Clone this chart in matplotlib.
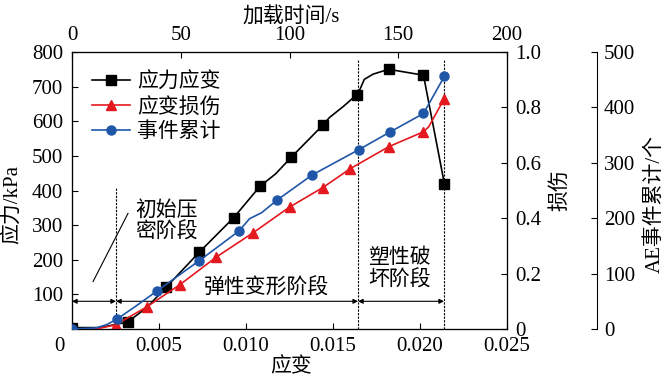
import matplotlib
matplotlib.use("Agg")
import matplotlib.pyplot as plt

plt.rcParams['font.family'] = ['Liberation Serif', 'Noto Sans CJK SC']
plt.rcParams['axes.linewidth'] = 0.8

# stress-strain curve (markers on a subset of points)
stress_strain = [0, 0.0016, 0.0032, 0.0043, 0.0054, 0.0073, 0.0093, 0.0108, 0.0117, 0.0126,
                 0.0144, 0.0148, 0.0156, 0.0161, 0.0164, 0.0168, 0.0173, 0.0182, 0.0202, 0.0214]
stress = [4, 4, 20, 62, 120, 221, 322, 412, 448, 496,
          588, 611, 643, 665, 675, 721, 736, 750, 733, 420]
stress_marks = [0, 2, 4, 5, 6, 7, 9, 10, 14, 17, 18, 19]

# strain damage
damage_strain = [0, 0.0014, 0.0025, 0.0043, 0.0062, 0.0083, 0.0104, 0.0125, 0.0144,
                 0.0160, 0.0182, 0.0202, 0.0205, 0.0214]
damage = [0, 0, 0.015, 0.08, 0.16, 0.26, 0.347, 0.44, 0.51,
          0.579, 0.658, 0.712, 0.73, 0.832]
damage_marks = [0, 2, 3, 4, 5, 6, 7, 8, 9, 10, 11, 13]

# cumulative AE events
ae_strain = [0, 0.0014, 0.0020, 0.0026, 0.0037, 0.0049, 0.0073, 0.0096, 0.0102, 0.0109,
             0.0118, 0.0138, 0.0165, 0.0183, 0.0202, 0.0214]
ae_count = [0, 2, 8, 18, 42, 69, 123, 177, 199, 210,
            233, 278, 324, 356, 389, 456]
ae_marks = [0, 3, 5, 6, 7, 10, 11, 12, 13, 14, 15]

# stage boundaries (strain) and dashed line heights (kPa)
bounds = [0, 0.00253, 0.01644, 0.02138]
dash_tops = [410, 778, 778]
arrow_level = 80

x_ticks = [0, 0.005, 0.010, 0.015, 0.020, 0.025]
x_labels = ['', '0.005', '0.010', '0.015', '0.020', '0.025']
y_ticks = [100, 200, 300, 400, 500, 600, 700, 800]
t_ticks = [0, 50, 100, 150, 200]
d_ticks = [0, 0.2, 0.4, 0.6, 0.8, 1.0]
d_labels = ['0', '0.2', '0.4', '0.6', '0.8', '1.0']
ae_ticks = [0, 100, 200, 300, 400, 500]

RED = '#e3191f'
BLUE = '#1f56a8'
FS = 15

fig = plt.figure(figsize=(6.68, 3.8), dpi=100)
ax = fig.add_axes([72 / 668, 1 - 329 / 380, 435 / 668, 277 / 380])
ax_t = ax.twiny()
ax_r = ax.twinx()
ax_ae = ax.twinx()

tick_kw = dict(direction='in', length=4.5, width=0.8, labelsize=FS)

# main axis
ax.set_xlim(0, 0.025)
ax.set_ylim(0, 800)
ax.set_xticks(x_ticks)
ax.set_xticklabels(x_labels)
ax.set_yticks(y_ticks)
ax.tick_params(axis='x', pad=6, **tick_kw)
ax.tick_params(axis='y', pad=6.5, **tick_kw)
ax.text(-0.03, -0.029, '0', transform=ax.transAxes, ha='center', va='top', fontsize=FS)
ax.set_xlabel('应变', fontsize=FS)
ax.xaxis.set_label_coords(0.503, -0.105)
ax.set_ylabel('应力/kPa', fontsize=FS)
ax.yaxis.set_label_coords(-0.112, 0.45)

# top time axis
ax_t.set_xlim(0, 200)
ax_t.set_xticks(t_ticks)
ax_t.tick_params(axis='x', pad=5, **tick_kw)
ax_t.set_xlabel('加载时间/s', fontsize=FS)
ax_t.xaxis.set_label_coords(0.503, 1.105)

# damage axis
ax_r.set_ylim(0, 1.0)
ax_r.set_yticks(d_ticks)
ax_r.set_yticklabels(d_labels)
ax_r.tick_params(axis='y', pad=6, **tick_kw)
ax_r.set_ylabel('损伤', fontsize=FS)
ax_r.yaxis.set_label_coords(1.099, 0.5)

# AE axis
ax_ae.set_ylim(0, 500)
ax_ae.set_yticks(ae_ticks)
ax_ae.spines['right'].set_position(('axes', 525 / 435))
for s in ['top', 'bottom', 'left']:
    ax_ae.spines[s].set_visible(False)
ax_ae.tick_params(axis='y', pad=5, **tick_kw)
ax_ae.set_ylabel('AE事件累计/个', fontsize=FS)
ax_ae.yaxis.set_label_coords(1.317, 0.45)

# stage dashed lines, arrows and labels
for b, top in zip(bounds[1:], dash_tops):
    ax.plot([b, b], [0, top], color='k', lw=0.8, ls=(0, (2, 1.2)))
for a, b in zip(bounds[:-1], bounds[1:]):
    ax.annotate('', xy=(b, arrow_level), xytext=(a, arrow_level),
                arrowprops=dict(arrowstyle='<|-|>', color='k', lw=0.8,
                                shrinkA=0, shrinkB=0, mutation_scale=7))
ax.plot([0.00121, 0.00322], [137, 334], color='k', lw=0.8)
ax.text(0.00546, 310, '初始压\n密阶段', fontsize=FS, ha='center', va='center', linespacing=1.1)
ax.text(0.01115, 117, '弹性变形阶段', fontsize=FS, ha='center', va='center')
ax.text(0.0188, 172, '塑性破\n坏阶段', fontsize=FS, ha='center', va='center', linespacing=1.15)

# curves
l1, = ax.plot(stress_strain, stress, color='k', lw=1.2, marker='s', ms=6.5,
              markevery=stress_marks, label='应力应变')
l2, = ax_r.plot(damage_strain, damage, color=RED, lw=1.2, marker='^', ms=6.5,
                markevery=damage_marks, label='应变损伤')
l3, = ax_ae.plot(ae_strain, ae_count, color=BLUE, lw=1.2, marker='o', ms=6.5,
                 markevery=ae_marks, label='事件累计')

ax_ae.legend(handles=[l1, l2, l3], loc='upper left', bbox_to_anchor=(0.046, 0.927),
             frameon=False, fontsize=FS, handlelength=1.8, handletextpad=0.35,
             labelspacing=0.25, borderpad=0, borderaxespad=0)

fig.savefig('out.png', dpi=100)
